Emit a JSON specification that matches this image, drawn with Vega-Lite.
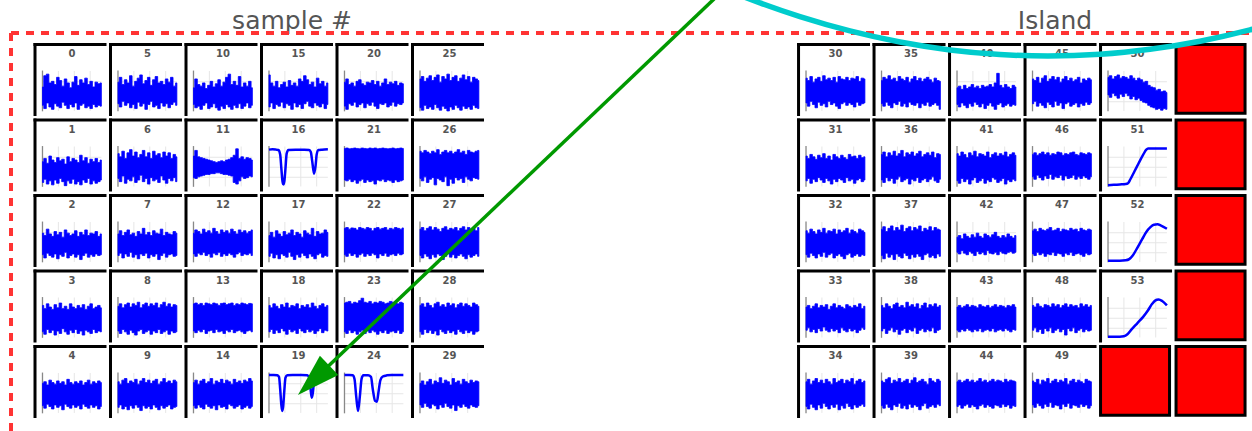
{
"$schema":"https://vega.github.io/schema/vega-lite/v6.json",
"width":1252,"height":431,
"autosize":{"type":"fit","contains":"padding"},
"padding":0,
"background":"white",
"config":{"view":{"stroke":null}},
"datasets":{
"cells":[
{"id":"0","g":"L","c":0,"r":0,"kind":"trace"},{"id":"1","g":"L","c":0,"r":1,"kind":"trace"},{"id":"2","g":"L","c":0,"r":2,"kind":"trace"},{"id":"3","g":"L","c":0,"r":3,"kind":"trace"},{"id":"4","g":"L","c":0,"r":4,"kind":"trace"},
{"id":"5","g":"L","c":1,"r":0,"kind":"trace"},{"id":"6","g":"L","c":1,"r":1,"kind":"trace"},{"id":"7","g":"L","c":1,"r":2,"kind":"trace"},{"id":"8","g":"L","c":1,"r":3,"kind":"trace"},{"id":"9","g":"L","c":1,"r":4,"kind":"trace"},
{"id":"10","g":"L","c":2,"r":0,"kind":"trace"},{"id":"11","g":"L","c":2,"r":1,"kind":"trace"},{"id":"12","g":"L","c":2,"r":2,"kind":"trace"},{"id":"13","g":"L","c":2,"r":3,"kind":"trace"},{"id":"14","g":"L","c":2,"r":4,"kind":"trace"},
{"id":"15","g":"L","c":3,"r":0,"kind":"trace"},{"id":"16","g":"L","c":3,"r":1,"kind":"trace"},{"id":"17","g":"L","c":3,"r":2,"kind":"trace"},{"id":"18","g":"L","c":3,"r":3,"kind":"trace"},{"id":"19","g":"L","c":3,"r":4,"kind":"trace"},
{"id":"20","g":"L","c":4,"r":0,"kind":"trace"},{"id":"21","g":"L","c":4,"r":1,"kind":"trace"},{"id":"22","g":"L","c":4,"r":2,"kind":"trace"},{"id":"23","g":"L","c":4,"r":3,"kind":"trace"},{"id":"24","g":"L","c":4,"r":4,"kind":"trace"},
{"id":"25","g":"L","c":5,"r":0,"kind":"trace"},{"id":"26","g":"L","c":5,"r":1,"kind":"trace"},{"id":"27","g":"L","c":5,"r":2,"kind":"trace"},{"id":"28","g":"L","c":5,"r":3,"kind":"trace"},{"id":"29","g":"L","c":5,"r":4,"kind":"trace"},
{"id":"30","g":"R","c":0,"r":0,"kind":"trace"},{"id":"31","g":"R","c":0,"r":1,"kind":"trace"},{"id":"32","g":"R","c":0,"r":2,"kind":"trace"},{"id":"33","g":"R","c":0,"r":3,"kind":"trace"},{"id":"34","g":"R","c":0,"r":4,"kind":"trace"},
{"id":"35","g":"R","c":1,"r":0,"kind":"trace"},{"id":"36","g":"R","c":1,"r":1,"kind":"trace"},{"id":"37","g":"R","c":1,"r":2,"kind":"trace"},{"id":"38","g":"R","c":1,"r":3,"kind":"trace"},{"id":"39","g":"R","c":1,"r":4,"kind":"trace"},
{"id":"40","g":"R","c":2,"r":0,"kind":"trace"},{"id":"41","g":"R","c":2,"r":1,"kind":"trace"},{"id":"42","g":"R","c":2,"r":2,"kind":"trace"},{"id":"43","g":"R","c":2,"r":3,"kind":"trace"},{"id":"44","g":"R","c":2,"r":4,"kind":"trace"},
{"id":"45","g":"R","c":3,"r":0,"kind":"trace"},{"id":"46","g":"R","c":3,"r":1,"kind":"trace"},{"id":"47","g":"R","c":3,"r":2,"kind":"trace"},{"id":"48","g":"R","c":3,"r":3,"kind":"trace"},{"id":"49","g":"R","c":3,"r":4,"kind":"trace"},
{"id":"50","g":"R","c":4,"r":0,"kind":"trace"},{"id":"51","g":"R","c":4,"r":1,"kind":"trace"},{"id":"52","g":"R","c":4,"r":2,"kind":"trace"},{"id":"53","g":"R","c":4,"r":3,"kind":"trace"},{"id":"e5","g":"R","c":4,"r":4,"kind":"empty"},
{"id":"e0","g":"R","c":5,"r":0,"kind":"empty"},{"id":"e1","g":"R","c":5,"r":1,"kind":"empty"},{"id":"e2","g":"R","c":5,"r":2,"kind":"empty"},{"id":"e3","g":"R","c":5,"r":3,"kind":"empty"},{"id":"e4","g":"R","c":5,"r":4,"kind":"empty"}
],
"noise":[
{"id":"0","hi":[60,88,92,70,74,66,84,76,62,80,70,58,72,86,64,78,70,82,66,74,60,72,68,70],"lo":[14,6,20,10,4,18,12,8,22,14,6,16,10,20,4,14,18,8,12,6,16,10,14,12]},
{"id":"5","hi":[72,84,66,78,70,88,62,74,82,90,68,76,84,64,78,86,70,74,66,80,72,84,62,70],"lo":[18,10,24,14,20,8,16,6,22,12,18,4,16,24,10,14,6,20,12,18,8,16,22,14]},
{"id":"10","hi":[58,80,66,62,70,56,64,74,60,68,78,62,72,84,92,66,74,64,86,60,70,62,74,58],"lo":[16,8,12,4,14,20,6,10,18,8,2,12,6,16,10,4,14,8,18,6,12,20,8,14]},
{"id":"15","hi":[90,70,62,74,58,66,72,60,76,64,70,62,80,74,88,78,66,72,60,82,68,74,62,70],"lo":[10,20,6,16,12,22,8,18,14,4,20,10,16,6,18,24,12,8,20,14,10,18,6,16]},
{"id":"20","hi":[72,80,66,70,62,74,78,68,64,72,70,76,66,74,62,70,80,66,72,68,74,64,70,68],"lo":[12,4,18,14,22,10,16,20,8,18,14,22,12,6,18,16,20,10,14,22,12,18,16,20]},
{"id":"25","hi":[80,86,74,82,88,76,84,90,72,86,80,92,76,84,88,74,82,90,78,86,72,84,80,76],"lo":[8,2,14,6,10,4,16,8,2,12,6,0,10,4,14,8,2,12,6,10,4,14,8,6]},
{"id":"1","hi":[62,70,58,76,66,60,72,64,68,56,74,62,70,66,60,78,64,72,58,68,62,70,60,66],"lo":[10,18,6,14,4,16,8,20,12,2,14,8,18,6,12,4,16,10,20,6,14,8,12,16]},
{"id":"6","hi":[82,74,88,70,84,92,76,86,72,80,90,74,84,70,88,78,82,72,86,76,84,70,80,74],"lo":[20,12,26,8,18,14,24,10,16,28,12,20,6,22,14,18,10,26,16,8,20,14,22,12]},
{"id":"11","hi":[76,90,74,72,70,68,66,64,62,60,62,64,62,66,68,72,78,94,70,74,68,72,70,66],"lo":[22,20,24,26,28,30,30,32,32,34,34,32,30,30,28,26,10,6,14,24,20,22,26,24]},
{"id":"21","hi":[95,96,94,95,96,95,94,96,95,94,96,95,96,94,95,96,95,94,95,96,94,95,96,95],"lo":[16,14,18,12,16,8,14,18,10,16,12,14,6,16,14,18,12,16,14,10,16,12,14,16]},
{"id":"26","hi":[88,84,90,86,82,88,84,92,80,86,90,84,88,82,86,92,84,88,80,90,86,84,88,90],"lo":[20,14,24,10,18,22,4,20,16,12,24,2,18,8,22,16,20,10,24,18,14,22,20,18]},
{"id":"2","hi":[72,66,82,70,64,76,68,74,62,80,72,66,70,78,64,74,68,80,66,72,70,76,64,70],"lo":[18,10,22,16,12,20,8,18,14,24,10,16,20,12,18,6,16,22,12,18,14,20,16,18]},
{"id":"7","hi":[70,78,66,74,80,68,72,64,76,70,84,68,74,66,78,72,70,82,66,74,70,68,76,72],"lo":[16,22,10,20,14,24,12,18,8,20,16,22,10,18,14,20,6,16,22,12,18,20,14,16]},
{"id":"12","hi":[72,80,76,70,82,74,78,72,84,76,70,80,74,78,72,82,76,70,80,74,78,72,76,80],"lo":[20,14,22,18,24,16,20,12,22,18,24,14,20,16,22,18,12,20,24,16,20,18,22,16]},
{"id":"17","hi":[66,74,62,78,70,64,76,68,72,80,66,74,70,62,78,72,68,84,64,76,70,72,80,74],"lo":[14,22,10,18,8,20,16,12,24,14,6,18,12,22,16,10,20,14,8,18,22,12,16,14]},
{"id":"22","hi":[84,86,82,85,84,80,86,84,82,86,84,78,84,86,82,84,86,80,84,82,86,84,82,85],"lo":[18,14,22,16,20,12,18,22,14,20,16,22,18,10,20,16,22,14,18,20,16,22,18,20]},
{"id":"27","hi":[82,86,78,84,88,80,86,82,76,84,88,80,84,82,86,78,84,88,80,86,82,84,78,86],"lo":[16,10,20,14,8,18,12,20,16,6,14,20,12,18,10,16,20,14,8,18,12,16,20,14]},
{"id":"3","hi":[80,72,84,76,70,82,74,86,72,78,70,84,76,72,80,74,82,70,78,84,72,76,80,74],"lo":[14,8,20,12,18,6,16,10,22,14,8,18,12,20,10,16,6,18,14,10,20,12,16,14]},
{"id":"8","hi":[78,84,74,82,86,76,84,80,88,74,82,86,78,84,80,86,74,82,88,78,84,76,82,80],"lo":[16,10,20,14,8,18,12,6,16,20,10,14,18,8,16,12,20,10,14,18,8,16,12,14]},
{"id":"13","hi":[84,86,82,85,80,86,84,82,86,84,80,85,86,82,84,86,80,84,82,86,84,82,85,84],"lo":[16,12,18,14,20,10,16,18,12,20,14,16,10,18,14,20,12,16,18,14,10,16,18,14]},
{"id":"18","hi":[80,74,84,78,72,82,76,86,74,80,78,84,72,80,76,82,74,86,78,72,80,84,76,80],"lo":[14,20,10,18,12,22,16,8,20,14,18,10,22,16,12,20,14,18,10,16,22,12,18,16]},
{"id":"23","hi":[86,88,90,84,88,86,92,98,88,86,90,84,88,86,90,88,84,86,90,88,86,84,88,86],"lo":[14,10,18,12,16,8,14,18,10,16,12,18,14,8,16,12,18,10,14,16,12,18,10,14]},
{"id":"28","hi":[80,84,76,86,80,74,84,88,78,82,76,86,80,84,74,82,86,78,84,80,76,86,82,78],"lo":[14,8,20,12,18,10,16,6,20,14,10,18,12,16,8,20,14,10,18,12,16,8,14,16]},
{"id":"4","hi":[74,78,70,82,76,72,80,74,78,70,84,76,72,78,74,80,70,76,82,72,78,74,80,76],"lo":[18,12,22,16,10,20,14,18,8,22,16,12,20,14,18,10,22,16,12,20,14,18,10,16]},
{"id":"9","hi":[78,72,82,86,74,80,76,84,72,80,86,76,82,74,80,84,72,78,86,76,80,74,82,78],"lo":[14,20,10,16,8,18,12,20,14,6,18,12,16,10,20,14,8,18,12,16,20,10,14,16]},
{"id":"14","hi":[76,82,72,80,84,74,78,86,72,80,76,84,74,82,78,72,84,76,80,74,82,78,86,80],"lo":[18,12,20,14,10,22,16,12,18,8,20,14,16,10,22,18,12,16,20,10,14,18,12,16]},
{"id":"29","hi":[74,80,70,78,84,72,80,76,88,74,82,78,70,86,76,80,72,84,78,74,82,76,80,78],"lo":[20,14,24,16,12,22,18,10,20,14,24,16,12,20,6,18,14,22,16,12,20,16,14,18]},
{"id":"30","hi":[82,76,86,72,80,84,74,88,78,82,76,84,72,86,80,78,84,76,82,80,86,74,82,80],"lo":[20,12,24,16,8,22,14,18,10,24,16,20,12,6,18,22,14,20,16,10,22,14,18,20]},
{"id":"35","hi":[76,84,80,88,78,82,74,86,80,76,84,72,80,86,76,82,74,80,84,78,72,82,76,74],"lo":[18,12,22,14,8,20,16,24,12,18,10,22,16,14,20,8,18,14,22,12,16,20,14,4]},
{"id":"40","hi":[58,62,54,64,56,60,66,58,62,56,64,60,62,66,60,70,94,64,58,66,60,56,64,60],"lo":[16,10,20,14,8,18,12,22,16,10,18,6,14,20,12,4,16,20,10,14,18,12,16,14]},
{"id":"45","hi":[80,76,84,70,82,88,74,80,86,78,84,72,80,86,76,82,74,78,84,70,80,76,82,78],"lo":[18,24,12,20,14,8,22,16,10,24,14,20,6,18,22,12,16,20,10,18,14,22,16,20]},
{"id":"50","hi":[84,88,80,86,90,82,86,84,80,88,82,76,82,78,72,74,64,60,58,52,54,48,50,46],"lo":[40,34,44,38,32,42,36,44,38,30,36,28,32,26,22,20,14,10,8,4,6,2,6,4]},
{"id":"31","hi":[76,70,80,74,68,78,72,82,70,76,66,80,74,70,78,72,68,80,74,76,70,78,72,74],"lo":[14,20,8,18,12,22,16,10,20,14,6,18,12,20,16,10,22,14,18,8,16,20,12,16]},
{"id":"36","hi":[80,86,74,84,78,88,76,82,90,74,84,80,86,76,82,88,74,80,84,78,86,72,82,80],"lo":[16,10,22,14,20,8,18,24,12,16,20,6,18,14,22,10,16,20,12,18,24,14,10,18]},
{"id":"41","hi":[82,76,86,80,72,84,78,88,74,82,80,76,86,72,80,84,76,82,78,86,74,80,84,78],"lo":[14,8,20,12,18,6,16,22,10,14,20,8,16,12,22,18,10,14,20,6,16,12,18,14]},
{"id":"46","hi":[80,84,78,82,86,80,84,78,82,80,86,84,78,82,80,84,86,80,78,84,82,80,84,82],"lo":[24,18,28,22,16,26,20,30,18,24,22,28,16,26,20,22,28,18,24,20,26,22,18,24]},
{"id":"32","hi":[78,72,82,76,70,80,74,84,72,78,76,82,70,80,74,78,84,72,80,76,72,82,78,74],"lo":[18,12,22,16,10,20,14,24,12,18,22,10,16,20,14,8,18,22,12,16,20,14,18,16]},
{"id":"37","hi":[82,88,76,84,90,78,86,80,92,76,84,88,78,86,82,90,76,84,80,88,78,86,82,80],"lo":[16,8,22,12,18,6,20,14,10,22,16,8,18,12,20,14,6,18,22,12,16,10,20,14]},
{"id":"42","hi":[62,66,58,70,64,60,68,62,72,64,60,70,66,62,68,74,64,60,66,62,70,64,60,66],"lo":[24,20,28,22,18,26,22,16,26,20,24,18,28,22,20,24,18,26,22,20,24,26,22,24]},
{"id":"47","hi":[78,82,76,84,80,78,82,86,78,80,84,76,82,80,78,84,80,82,76,84,80,78,82,80],"lo":[20,16,24,18,22,14,20,18,24,16,22,20,14,22,18,24,16,20,22,18,14,22,18,20]},
{"id":"33","hi":[76,80,72,78,84,74,80,76,82,70,78,84,74,80,76,72,82,78,74,80,76,84,72,78],"lo":[18,24,14,20,12,22,16,26,18,14,22,16,20,12,24,18,14,22,16,20,12,18,24,20]},
{"id":"38","hi":[80,74,84,78,72,82,86,76,80,74,88,78,82,76,84,72,80,86,74,82,78,84,76,80],"lo":[16,22,10,18,24,14,20,8,18,22,12,20,16,24,10,18,22,14,20,16,24,12,18,20]},
{"id":"43","hi":[76,80,74,78,82,76,80,78,74,82,78,76,80,74,78,82,76,80,78,74,80,78,82,76],"lo":[18,14,20,16,22,18,14,20,16,22,14,18,20,16,22,14,18,20,16,22,18,14,20,18]},
{"id":"48","hi":[80,76,84,78,74,82,80,76,84,78,82,74,80,84,76,82,78,80,74,84,78,82,76,80],"lo":[18,24,14,20,10,22,16,24,12,18,22,14,20,6,22,16,24,12,18,22,14,20,16,18]},
{"id":"34","hi":[78,84,72,80,86,76,82,74,84,78,72,86,76,80,84,74,82,78,86,72,80,84,76,80],"lo":[16,10,22,14,8,20,12,24,16,10,20,14,22,8,18,12,24,16,10,20,14,18,22,16]},
{"id":"39","hi":[80,76,84,88,74,82,78,86,76,80,84,74,82,88,76,80,84,78,72,86,80,76,84,80],"lo":[18,12,22,14,8,20,16,24,12,18,10,22,14,20,16,8,18,24,12,16,20,14,22,18]},
{"id":"44","hi":[78,82,76,80,84,78,82,76,80,86,78,82,76,80,84,78,82,80,76,84,78,82,80,78],"lo":[16,20,12,18,22,14,20,16,10,18,22,14,20,16,12,20,18,14,22,16,20,12,18,16]},
{"id":"49","hi":[80,76,84,72,82,78,86,74,80,84,76,82,78,86,72,80,84,76,82,78,74,84,80,78],"lo":[20,14,24,18,12,22,16,26,14,20,18,10,22,16,24,12,20,18,14,22,16,20,12,18]}
],
"curves":[
{"id":"16","t":[0,0.06,0.12,0.16,0.19,0.21,0.23,0.245,0.26,0.28,0.3,0.33,0.45,0.6,0.68,0.71,0.735,0.765,0.79,0.81,0.84,0.9,1],"v":[92,93,92,91,80,45,12,5,12,45,82,91,92,92,91,86,62,32,50,80,91,92,93]},
{"id":"19","t":[0,0.08,0.14,0.17,0.19,0.21,0.225,0.24,0.26,0.28,0.31,0.4,0.55,0.65,0.685,0.705,0.725,0.745,0.765,0.79,0.85,1],"v":[95,95,94,90,60,20,5,15,55,88,94,95,95,94,88,62,38,50,80,93,95,95]},
{"id":"24","t":[0,0.08,0.14,0.17,0.2,0.23,0.26,0.29,0.32,0.4,0.45,0.48,0.52,0.55,0.58,0.61,0.65,0.72,0.8,1],"v":[95,95,94,85,40,5,40,85,94,94,90,60,30,28,55,82,91,94,95,95]},
{"id":"51","t":[0,0.1,0.2,0.3,0.34,0.38,0.45,0.52,0.6,0.65,0.68,0.75,0.85,1],"v":[3,4,5,6,8,18,38,58,80,92,95,95,95,95]},
{"id":"52","t":[0,0.2,0.3,0.36,0.42,0.5,0.58,0.65,0.72,0.78,0.84,0.9,1],"v":[3,3,4,7,16,36,57,75,87,93,94,91,83]},
{"id":"53","t":[0,0.2,0.27,0.33,0.4,0.5,0.6,0.68,0.75,0.8,0.86,0.92,1],"v":[2,2,3,8,20,36,52,68,84,92,95,91,80]}
],
"titles":[{"label":"sample #","x":3.424,"y":-0.185},{"label":"Island","x":13.53,"y":-0.185}],
"dash":[{"x":-0.298,"y":-0.1325,"x2":16.4,"y2":-0.1325},{"x":-0.298,"y":-0.1325,"x2":-0.298,"y2":5.3}],
"arc":[
{"o":0,"x":9.093,"y":-0.7404},{"o":1,"x":9.3576,"y":-0.6318},{"o":2,"x":9.6225,"y":-0.5311},{"o":3,"x":10.1523,"y":-0.3497},{"o":4,"x":10.8146,"y":-0.1603},{"o":5,"x":11.4768,"y":-0.0132},{"o":6,"x":12.1391,"y":0.0914},{"o":7,"x":12.8013,"y":0.1523},{"o":8,"x":13.4371,"y":0.1722},{"o":9,"x":14.1258,"y":0.1497},{"o":10,"x":14.7881,"y":0.0834},{"o":11,"x":15.4503,"y":-0.0238},{"o":12,"x":16.1126,"y":-0.1735},{"o":13,"x":16.3775,"y":-0.245}
],
"arrow":[{"x":9.139,"y":-0.702,"x2":3.865,"y2":4.318}],
"head":[{"x":3.709,"y":4.466}]
},
"encoding":{
"x":{"field":"x","type":"quantitative","scale":{"domain":[-0.4437,16.1391],"nice":false,"zero":false},"axis":null},
"y":{"field":"y","type":"quantitative","scale":{"domain":[-0.5695,5.1391],"nice":false,"zero":false,"reverse":true},"axis":null}
},
"layer":[
{"data":{"name":"cells"},"transform":[{"filter":"datum.kind=='trace'"},{"calculate":"datum.c+(datum.g=='R'?10.113:0)","as":"gx"},{"calculate":"[0.27,0.54,0.81]","as":"gt"},{"flatten":["gt"]},{"calculate":"datum.gx+0.119+datum.gt*0.78","as":"x"},{"calculate":"datum.r+0.371","as":"y"},{"calculate":"datum.r+0.9","as":"y2"}],
"mark":{"type":"rule","color":"#e6e6e6","strokeWidth":1},"encoding":{"y2":{"field":"y2"}}},
{"data":{"name":"cells"},"transform":[{"filter":"datum.kind=='trace'"},{"calculate":"datum.c+(datum.g=='R'?10.113:0)","as":"gx"},{"calculate":"[0.23,0.48,0.73]","as":"gv"},{"flatten":["gv"]},{"calculate":"datum.gx+0.119","as":"x"},{"calculate":"datum.gx+0.899","as":"x2"},{"calculate":"datum.r+0.9-datum.gv*0.53","as":"y"}],
"mark":{"type":"rule","color":"#e6e6e6","strokeWidth":1},"encoding":{"x2":{"field":"x2"}}},
{"data":{"name":"cells"},"transform":[{"filter":"datum.kind=='trace'"},{"calculate":"datum.c+(datum.g=='R'?10.113:0)","as":"gx"},{"calculate":"datum.gx+0.119","as":"x"},{"calculate":"datum.r+0.365","as":"y"},{"calculate":"datum.r+0.905","as":"y2"}],
"mark":{"type":"rule","color":"#888888","strokeWidth":1.3},"encoding":{"y2":{"field":"y2"}}},
{"data":{"name":"noise"},"transform":[{"flatten":["hi","lo"]},{"window":[{"op":"row_number","as":"i"}],"groupby":["id"]},{"lookup":"id","from":{"data":{"name":"cells"},"key":"id","fields":["g","c","r"]}},{"calculate":"datum.c+(datum.g=='R'?10.113:0)","as":"gx"},{"calculate":"datum.gx+0.119+(datum.i-1)/23*0.78","as":"x"},{"calculate":"datum.r+0.9-datum.lo/100*0.53","as":"y"},{"calculate":"datum.r+0.9-datum.hi/100*0.53","as":"y2"}],
"mark":{"type":"area","color":"#0000ff","opacity":1,"orient":"vertical","interpolate":"step","stroke":"#0000ff","strokeWidth":0.8},"encoding":{"y2":{"field":"y2"},"detail":{"field":"id"}}},
{"data":{"name":"curves"},"transform":[{"flatten":["t","v"]},{"lookup":"id","from":{"data":{"name":"cells"},"key":"id","fields":["g","c","r"]}},{"calculate":"datum.c+(datum.g=='R'?10.113:0)","as":"gx"},{"calculate":"datum.gx+0.119+datum.t*0.78","as":"x"},{"calculate":"datum.r+0.9-datum.v/100*0.53","as":"y"}],
"mark":{"type":"line","color":"#0000ff","strokeWidth":2.5,"interpolate":"monotone"},"encoding":{"detail":{"field":"id"}}},
{"data":{"name":"cells"},"transform":[{"filter":"datum.kind=='trace'"},{"calculate":"datum.c+(datum.g=='R'?10.113:0)","as":"gx"},{"calculate":"datum.gx","as":"x"},{"calculate":"datum.gx+0.967","as":"x2"},{"calculate":"datum.r+0.02","as":"y"}],
"mark":{"type":"rule","color":"#000000","strokeWidth":3},"encoding":{"x2":{"field":"x2"}}},
{"data":{"name":"cells"},"transform":[{"filter":"datum.kind=='trace'"},{"calculate":"datum.c+(datum.g=='R'?10.113:0)","as":"gx"},{"calculate":"datum.gx+0.02","as":"x"},{"calculate":"datum.r","as":"y"},{"calculate":"datum.r+0.967","as":"y2"}],
"mark":{"type":"rule","color":"#000000","strokeWidth":3},"encoding":{"y2":{"field":"y2"}}},
{"data":{"name":"cells"},"transform":[{"filter":"datum.kind=='empty'"},{"calculate":"datum.c+(datum.g=='R'?10.113:0)","as":"gx"},{"calculate":"datum.gx+0.02","as":"x"},{"calculate":"datum.gx+0.934","as":"x2"},{"calculate":"datum.r+0.02","as":"y"},{"calculate":"datum.r+0.93","as":"y2"}],
"mark":{"type":"rect","fill":"#ff0000","stroke":"#000000","strokeWidth":3},"encoding":{"x2":{"field":"x2"},"y2":{"field":"y2"}}},
{"data":{"name":"cells"},"transform":[{"filter":"datum.kind=='trace'"},{"calculate":"datum.c+(datum.g=='R'?10.113:0)","as":"gx"},{"calculate":"datum.gx+0.51","as":"x"},{"calculate":"datum.r+0.148","as":"y"}],
"mark":{"type":"text","font":"DejaVu Sans","fontWeight":"bold","fontSize":10,"color":"#555555","baseline":"middle","align":"center"},"encoding":{"text":{"field":"id"}}},
{"data":{"name":"titles"},"mark":{"type":"text","font":"DejaVu Sans","fontSize":25,"color":"#555555","baseline":"alphabetic","align":"center"},"encoding":{"text":{"field":"label"}}},
{"data":{"name":"dash"},"mark":{"type":"rule","color":"#ff3333","strokeWidth":4,"strokeDash":[8,7],"clip":true},"encoding":{"x2":{"field":"x2"},"y2":{"field":"y2"}}},
{"data":{"name":"arc"},"mark":{"type":"line","color":"#00cccc","strokeWidth":5.5,"interpolate":"monotone","clip":true},"encoding":{"order":{"field":"o"}}},
{"data":{"name":"arrow"},"mark":{"type":"rule","color":"#009900","strokeWidth":3.5,"clip":true},"encoding":{"x2":{"field":"x2"},"y2":{"field":"y2"}}},
{"data":{"name":"head"},"mark":{"type":"point","shape":"M0,-1L0.62,1L-0.62,1Z","size":1849,"angle":226.4,"filled":true,"color":"#009900","opacity":1,"strokeWidth":0},"encoding":{}}
]
}
